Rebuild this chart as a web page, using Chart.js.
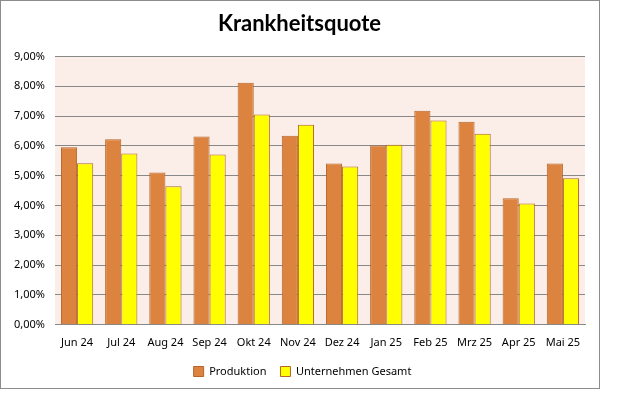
<!DOCTYPE html>
<html>
<head>
<meta charset="utf-8">
<script src="https://cdn.jsdelivr.net/npm/chart.js@4"></script>
<style>
  html, body { margin: 0; padding: 0; background: #fff; }
  #wrap { width: 626px; height: 399px; position: relative; }
</style>
</head>
<body>
<div id="wrap"><canvas id="c" width="626" height="399"></canvas></div>
<script>
// data (percent)
var months = ['Jun 24', 'Jul 24', 'Aug 24', 'Sep 24', 'Okt 24', 'Nov 24', 'Dez 24', 'Jan 25', 'Feb 25', 'Mrz 25', 'Apr 25', 'Mai 25'];
var produktion = [5.95, 6.22, 5.11, 6.31, 8.12, 6.34, 5.41, 6.01, 7.18, 6.81, 4.24, 5.41];
var unternehmenGesamt = [5.42, 5.74, 4.65, 5.71, 7.05, 6.71, 5.31, 6.04, 6.85, 6.41, 4.07, 4.91];
var seriesNames = ['Produktion', 'Unternehmen Gesamt'];

var fontFamily = '"Noto Sans", "DejaVu Sans", sans-serif';

// pink plot background + grey frame round the whole chart
var chartDecor = {
  id: 'chartDecor',
  afterLayout: function(chart) {
    // title and legend sit centred in the frame, not over the plot
    chart.titleBlock.left += 7;
    chart.titleBlock.right += 7;
    chart.legend.left += 10;
    chart.legend.right += 10;
  },
  beforeDraw: function(chart) {
    var ctx = chart.ctx;
    var a = chart.chartArea;
    ctx.save();
    ctx.fillStyle = '#fff';
    ctx.fillRect(0, 0, chart.width, chart.height);
    ctx.fillStyle = '#FBEEE9';
    ctx.fillRect(a.left, a.top, a.right - a.left, a.bottom - a.top);
    ctx.strokeStyle = '#8c8c8c';
    ctx.lineWidth = 1;
    ctx.strokeRect(0.5, 0.5, 599, 388);
    ctx.restore();
  }
};

new Chart(document.getElementById('c').getContext('2d'), {
  type: 'bar',
  data: {
    labels: months,
    datasets: [
      {
        label: seriesNames[0],
        data: produktion,
        backgroundColor: '#DC843F',
        borderColor: '#B5652A',
        borderWidth: 1
      },
      {
        label: seriesNames[1],
        data: unternehmenGesamt,
        backgroundColor: '#FFFF00',
        borderColor: '#B5652A',
        borderWidth: 1
      }
    ]
  },
  options: {
    responsive: false,
    animation: false,
    layout: { padding: { left: 0, right: 41, top: 0, bottom: 12 } },
    datasets: {
      bar: { categoryPercentage: 0.73, barPercentage: 1.0 }
    },
    plugins: {
      title: {
        display: true,
        text: 'Krankheitsquote',
        color: '#000',
        font: { family: 'Lato, "Noto Sans", sans-serif', size: 22, weight: 'bold' },
        padding: { top: 11, bottom: 19 }
      },
      legend: {
        position: 'bottom',
        labels: {
          color: '#000',
          font: { family: fontFamily, size: 11 },
          boxWidth: 10,
          boxHeight: 10,
          padding: 14
        }
      },
      tooltip: { enabled: false }
    },
    scales: {
      x: {
        grid: { display: false },
        border: { display: true, color: '#888' },
        ticks: {
          color: '#000',
          font: { family: fontFamily, size: 11 },
          padding: 3,
          maxRotation: 0
        }
      },
      y: {
        min: 0,
        max: 9,
        grid: { color: '#888', drawTicks: false },
        border: { display: false },
        ticks: {
          stepSize: 1,
          color: '#000',
          padding: 10,
          font: { family: fontFamily, size: 11 },
          callback: function(v) { return v.toFixed(2).replace('.', ',') + '%'; }
        },
        afterFit: function(scale) { scale.width = 55; }
      }
    }
  },
  plugins: [chartDecor]
});
</script>
</body>
</html>
